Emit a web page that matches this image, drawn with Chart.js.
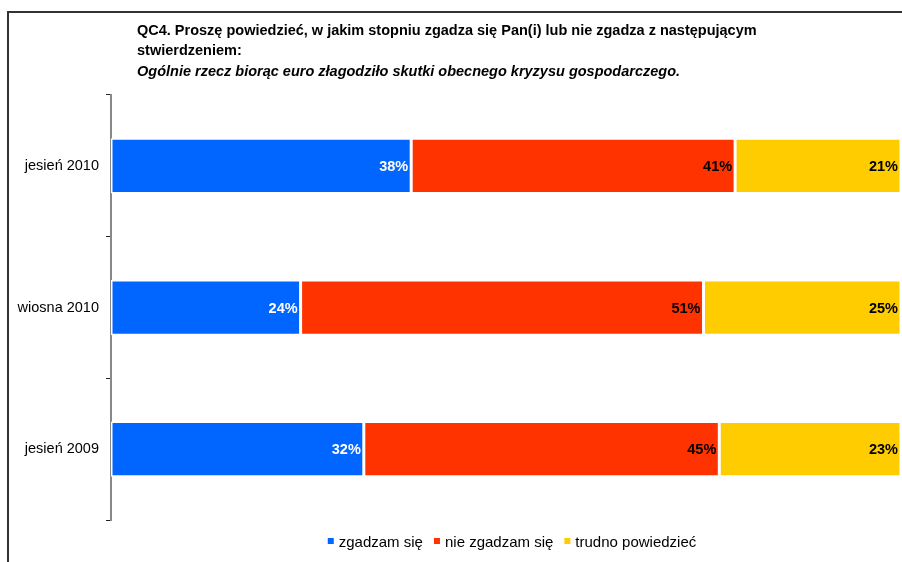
<!DOCTYPE html>
<html>
<head>
<meta charset="utf-8">
<script src="https://cdn.jsdelivr.net/npm/chart.js@4/dist/chart.umd.min.js"></script>
<style>
html,body{margin:0;padding:0;background:#fff;}
#wrap{width:902px;height:562px;position:relative;}
</style>
</head>
<body>
<div id="wrap"><canvas id="c" width="902" height="562"></canvas></div>
<script>
const categories = ['jesień 2010', 'wiosna 2010', 'jesień 2009'];
const seriesNames = ['zgadzam się', 'nie zgadzam się', 'trudno powiedzieć'];
const agree = [38, 24, 32];
const disagree = [41, 51, 45];
const hardToSay = [21, 25, 23];
const seriesColors = ['#0066FF', '#FF3300', '#FFCC00'];
const labelColors = ['#FFFFFF', '#000000', '#000000'];
const titleLines = [
  'QC4. Proszę powiedzieć, w jakim stopniu zgadza się Pan(i) lub nie zgadza z następującym',
  'stwierdzeniem:',
  'Ogólnie rzecz biorąc euro złagodziło skutki obecnego kryzysu gospodarczego.'
];

const FONT = 'Arial, "Liberation Sans", sans-serif';

const framePlugin = {
  id: 'frame',
  beforeDraw(chart) {
    const ctx = chart.ctx;
    ctx.save();
    ctx.fillStyle = '#fff';
    ctx.fillRect(0, 0, chart.width, chart.height);
    ctx.strokeStyle = '#333';
    ctx.lineWidth = 2;
    ctx.beginPath();
    ctx.moveTo(8, 562);
    ctx.lineTo(8, 12);
    ctx.lineTo(902, 12);
    ctx.stroke();
    // title
    ctx.fillStyle = '#000';
    ctx.textBaseline = 'middle';
    ctx.textAlign = 'left';
    ctx.font = 'bold 14.5px ' + FONT;
    ctx.fillText(titleLines[0], 137, 31);
    ctx.fillText(titleLines[1], 137, 51);
    ctx.font = 'italic bold 14.5px ' + FONT;
    ctx.fillText(titleLines[2], 137, 72);
    ctx.restore();
  }
};

const labelPlugin = {
  id: 'valueLabels',
  afterDatasetsDraw(chart) {
    const ctx = chart.ctx;
    ctx.save();
    ctx.font = 'bold 14.5px ' + FONT;
    ctx.textAlign = 'right';
    ctx.textBaseline = 'middle';
    chart.data.datasets.forEach((ds, di) => {
      const meta = chart.getDatasetMeta(di);
      meta.data.forEach((bar, i) => {
        ctx.fillStyle = labelColors[di];
        ctx.fillText(ds.data[i] + '%', bar.x - 3, bar.y + 1);
      });
    });
    // legend
    ctx.font = '15px ' + FONT;
    ctx.textAlign = 'left';
    const widths = seriesNames.map(n => ctx.measureText(n).width);
    const box = 6, gap1 = 5, gap2 = 11;
    let total = 0;
    widths.forEach((w, i) => { total += box + gap1 + w + (i < widths.length - 1 ? gap2 : 0); });
    let x = (chart.chartArea.left + chart.chartArea.right) / 2 - total / 2 + 6;
    const y = 543;
    seriesNames.forEach((n, i) => {
      ctx.fillStyle = seriesColors[i];
      ctx.fillRect(x, y - 5, box, box);
      x += box + gap1;
      ctx.fillStyle = '#000';
      ctx.fillText(n, x, y);
      x += widths[i] + gap2;
    });
    ctx.restore();
  }
};

new Chart(document.getElementById('c'), {
  type: 'bar',
  data: {
    labels: categories,
    datasets: [agree, disagree, hardToSay].map((d, i) => ({
      label: seriesNames[i],
      data: d,
      backgroundColor: seriesColors[i],
      borderColor: '#FFFFFF',
      borderWidth: 1.5,
      borderSkipped: false,
      barPercentage: 0.78,
      categoryPercentage: 0.5
    }))
  },
  options: {
    indexAxis: 'y',
    responsive: false,
    animation: false,
    devicePixelRatio: 1,
    layout: { padding: { left: 7, right: 1, top: 95, bottom: 42 } },
    plugins: { legend: { display: false }, title: { display: false }, tooltip: { enabled: false } },
    scales: {
      x: { stacked: true, min: 0, max: 100, display: false },
      y: {
        stacked: true,
        afterFit(scale) { scale.width = 104; },
        border: { display: true, color: '#888888', width: 2 },
        grid: { display: true, drawOnChartArea: false, drawTicks: true, tickLength: 5, color: '#222222', lineWidth: 1, offset: true },
        ticks: { color: '#000', font: { family: FONT, size: 14.5 }, padding: 7 }
      }
    }
  },
  plugins: [framePlugin, labelPlugin]
});
</script>
</body>
</html>
